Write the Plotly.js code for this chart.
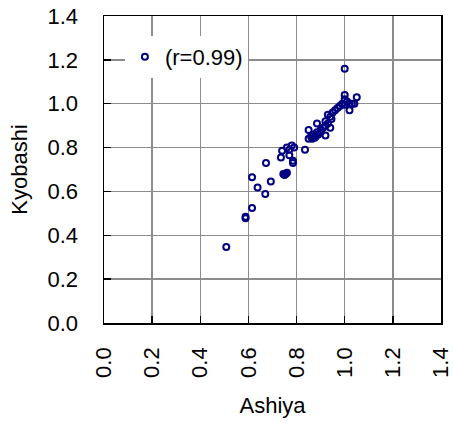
<!DOCTYPE html>
<html>
<head>
<meta charset="utf-8">
<script src="https://cdn.plot.ly/plotly-3.0.1.min.js"></script>
<style>html,body{margin:0;padding:0;background:#fff;}</style>
</head>
<body>
<div id="chart" style="width:453px;height:423px;"></div>
<script>
const seriesName = "(r=0.99)";
const xLabel = "Ashiya";
const yLabel = "Kyobashi";
const tickVals = [0, 0.2, 0.4, 0.6, 0.8, 1.0, 1.2, 1.4];
const tickText = ["0.0", "0.2", "0.4", "0.6", "0.8", "1.0", "1.2", "1.4"];
const ashiya = [
  1.00, 1.00, 1.05, 1.00, 1.01, 0.99, 1.00, 1.02, 1.03, 1.04, 0.98, 1.02, 0.97, 0.96, 0.95,
  0.93, 0.94, 0.945, 0.92, 0.93, 0.885, 0.92, 0.94, 0.90, 0.85, 0.885, 0.87, 0.92, 0.86, 0.85,
  0.865, 0.88, 0.875, 0.89, 0.90, 0.91,
  0.835, 0.78, 0.76, 0.79, 0.74, 0.77, 0.735, 0.77, 0.785, 0.785, 0.673, 0.745, 0.75, 0.755,
  0.76, 0.615, 0.693, 0.638, 0.67, 0.615, 0.588, 0.588, 0.508
];
const kyobashi = [
  1.16, 1.04, 1.03, 1.02, 1.01, 1.00, 0.995, 1.00, 1.00, 1.00, 0.99, 0.97, 0.98, 0.97, 0.96,
  0.95, 0.94, 0.93, 0.92, 0.91, 0.91, 0.90, 0.89, 0.88, 0.88, 0.87, 0.86, 0.855, 0.85, 0.84,
  0.84, 0.85, 0.845, 0.86, 0.87, 0.89,
  0.79, 0.81, 0.80, 0.80, 0.785, 0.79, 0.755, 0.765, 0.73, 0.74, 0.73, 0.68, 0.675, 0.68,
  0.685, 0.665, 0.645, 0.618, 0.588, 0.525, 0.478, 0.485, 0.347
];

const FONT = 'Liberation Sans, Arial, sans-serif';
const FS = 22;

const axisCommon = {
  range: [0, 1.4],
  tickvals: tickVals,
  ticktext: tickText,
  showgrid: true,
  gridcolor: '#8c8c8c',
  gridwidth: 1.5,
  zeroline: false,
  showline: true,
  linecolor: '#000',
  linewidth: 1.5,
  mirror: true,
  ticks: 'inside',
  ticklen: 7,
  tickwidth: 1.5,
  tickcolor: '#000',
  ticklabeloverflow: 'allow',
  tickfont: {family: FONT, size: FS, color: '#000'}
};

const trace = {
  x: ashiya,
  y: kyobashi,
  type: 'scatter',
  mode: 'markers',
  name: seriesName,
  marker: {symbol: 'circle-open', size: 6, color: '#000080', line: {width: 2, color: '#000080'}}
};

const layout = {
  width: 453,
  height: 423,
  margin: {l: 104, r: 12, t: 16, b: 100},
  paper_bgcolor: '#fff',
  plot_bgcolor: '#fff',
  showlegend: true,
  legend: {
    x: 0.062, y: 0.935, xanchor: 'left', yanchor: 'top',
    bgcolor: '#fff',
    font: {family: FONT, size: FS, color: '#000'},
    itemwidth: 30
  },
  xaxis: Object.assign({}, axisCommon, {
    tickangle: -90,
    ticklabelstandoff: 14,
    title: {text: xLabel, font: {family: FONT, size: FS, color: '#000'}, standoff: 20}
  }),
  yaxis: Object.assign({}, axisCommon, {
    ticklabelstandoff: 20,
    title: {text: yLabel, font: {family: FONT, size: FS, color: '#000'}, standoff: 14}
  })
};

Plotly.newPlot('chart', [trace], layout, {displayModeBar: false, staticPlot: true});
</script>
</body>
</html>
